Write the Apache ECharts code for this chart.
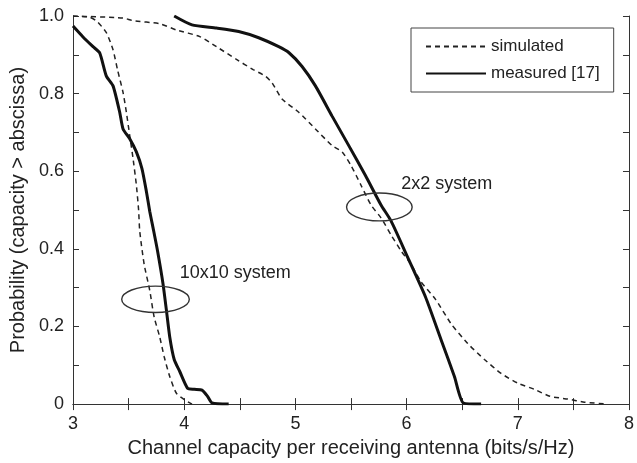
<!DOCTYPE html>
<html><head><meta charset="utf-8">
<script src="https://cdn.jsdelivr.net/npm/echarts@6/dist/echarts.min.js"></script>
<style>html,body{margin:0;padding:0;background:#fff}#c{width:637px;height:463px}</style>
</head><body><div id="c"></div>
<script>
// 10x10 system, simulated
const sim10X = [3.0, 3.15, 3.22, 3.30, 3.36, 3.40, 3.45, 3.48, 3.51, 3.54, 3.57, 3.59, 3.60, 3.64, 3.69, 3.73, 3.78, 3.82, 3.87, 3.93, 4.02, 4.07];
const sim10Y = [1.0, 0.997, 0.985, 0.957, 0.913, 0.862, 0.803, 0.752, 0.692, 0.633, 0.564, 0.50, 0.446, 0.36, 0.293, 0.224, 0.173, 0.122, 0.071, 0.028, 0.008, 0.0];
// 10x10 system, measured
const meas10X = [3.0, 3.09, 3.18, 3.24, 3.30, 3.36, 3.42, 3.45, 3.51, 3.57, 3.62, 3.66, 3.69, 3.72, 3.76, 3.81, 3.84, 3.87, 3.91, 3.96, 4.03, 4.09, 4.16, 4.21, 4.25, 4.40];
const meas10Y = [0.974, 0.946, 0.921, 0.905, 0.845, 0.82, 0.752, 0.709, 0.684, 0.65, 0.607, 0.548, 0.497, 0.454, 0.395, 0.309, 0.242, 0.173, 0.115, 0.084, 0.041, 0.038, 0.036, 0.02, 0.003, 0.0];
// 2x2 system, simulated
const sim2X = [3.0, 3.45, 3.54, 3.78, 3.93, 4.14, 4.29, 4.47, 4.62, 4.73, 4.79, 4.88, 5.03, 5.18, 5.33, 5.42, 5.50, 5.59, 5.68, 5.77, 5.86, 5.95, 6.04, 6.13, 6.26, 6.40, 6.55, 6.70, 6.85, 7.0, 7.15, 7.29, 7.45, 7.60, 7.80];
const sim2Y = [1.0, 0.995, 0.988, 0.98, 0.964, 0.947, 0.921, 0.888, 0.862, 0.845, 0.828, 0.786, 0.752, 0.709, 0.666, 0.65, 0.615, 0.564, 0.513, 0.48, 0.436, 0.395, 0.36, 0.315, 0.27, 0.207, 0.156, 0.115, 0.079, 0.054, 0.038, 0.02, 0.013, 0.005, 0.0];
// 2x2 system, measured
const meas2X = [3.91, 4.07, 4.29, 4.49, 4.67, 4.85, 4.94, 5.06, 5.18, 5.33, 5.48, 5.63, 5.77, 5.86, 6.01, 6.17, 6.31, 6.43, 6.51, 6.67];
const meas2Y = [1.0, 0.977, 0.969, 0.96, 0.944, 0.921, 0.906, 0.87, 0.82, 0.742, 0.666, 0.589, 0.513, 0.472, 0.378, 0.276, 0.166, 0.071, 0.003, 0.0];
// annotations: [centerX, centerY, radiusX, radiusY] in data units
const ellipses = [[5.755, 0.508, 0.295, 0.036], [3.742, 0.27, 0.304, 0.034]];
const annoLabels = ["2x2 system", "10x10 system"];
const annoLabelPos = [[5.952, 0.567], [3.96, 0.338]];
const xTicks = [3, 4, 5, 6, 7, 8];
const yTicks = [0, 0.2, 0.4, 0.6, 0.8, 1.0];

const pairs = (xs, ys) => xs.map((x, i) => [x, ys[i]]);
const FONT = '"Liberation Sans", Arial, sans-serif';
const chart = echarts.init(document.getElementById('c'), null, {renderer: 'canvas'});

function axisCommon(show) {
  return {
    axisLine: {show: true, lineStyle: {color: '#333', width: 1}},
    axisTick: {show: true, inside: true, length: 6, lineStyle: {color: '#333'}},
    splitLine: {show: false},
    axisLabel: {show: show}
  };
}
const dashStyle = {color: '#222', width: 1.5, type: [5, 4]};
const solidStyle = {color: '#111', width: 3};

chart.setOption({
  animation: false,
  textStyle: {fontFamily: FONT},
  grid: {left: 73, right: 5, top: 16, bottom: 55},
  xAxis: [
    Object.assign(axisCommon(true), {
      type: 'value', min: 3, max: 8, interval: 0.5, position: 'bottom',
      name: 'Channel capacity per receiving antenna (bits/s/Hz)', nameLocation: 'middle', nameGap: 29,
      nameTextStyle: {fontSize: 20, color: '#222', fontFamily: FONT},
      axisLabel: {show: true, fontSize: 18, color: '#222', margin: 11, fontFamily: FONT,
        formatter: v => xTicks.some(t => Math.abs(t - v) < 1e-6) ? String(Math.round(v)) : ''}
    }),
    Object.assign(axisCommon(false), {type: 'value', min: 3, max: 8, interval: 0.5, position: 'top'})
  ],
  yAxis: [
    Object.assign(axisCommon(true), {
      type: 'value', min: 0, max: 1, interval: 0.1, position: 'left',
      name: 'Probability (capacity > abscissa)', nameLocation: 'middle', nameGap: 41,
      nameTextStyle: {fontSize: 20, color: '#222', fontFamily: FONT},
      axisLabel: {show: true, fontSize: 18, color: '#222', margin: 9, fontFamily: FONT,
        formatter: v => { const t = yTicks.find(t => Math.abs(t - v) < 1e-6); return t === undefined ? '' : (t === 0 ? '0' : t.toFixed(1)); }}
    }),
    Object.assign(axisCommon(false), {type: 'value', min: 0, max: 1, interval: 0.1, position: 'right'})
  ],
  legend: {
    orient: 'vertical', left: 411, top: 28,
    backgroundColor: '#fff', borderColor: '#444', borderWidth: 1,
    padding: [10, 14, 10, 14], itemGap: 10, itemWidth: 60, itemHeight: 14,
    itemStyle: {opacity: 0, borderWidth: 0},
    textStyle: {fontSize: 17, color: '#222', fontFamily: FONT},
    data: ['simulated', 'measured [17]']
  },
  series: [
    {name: 'simulated', type: 'line', data: pairs(sim10X, sim10Y), symbol: 'none', smooth: 0.2, lineStyle: dashStyle, itemStyle: {color: '#222'}},
    {name: 'measured [17]', type: 'line', data: pairs(meas10X, meas10Y), symbol: 'none', smooth: 0.2, lineStyle: solidStyle, itemStyle: {color: '#111'}},
    {name: 'simulated', type: 'line', data: pairs(sim2X, sim2Y), symbol: 'none', smooth: 0.2, lineStyle: dashStyle, itemStyle: {color: '#222'}},
    {name: 'measured [17]', type: 'line', data: pairs(meas2X, meas2Y), symbol: 'none', smooth: 0.2, lineStyle: solidStyle, itemStyle: {color: '#111'}},
    {
      type: 'custom', name: 'anno', silent: true, z: 5,
      data: ellipses.map((e, i) => [e[0], e[1], e[2], e[3], annoLabelPos[i][0], annoLabelPos[i][1], i]),
      renderItem: (params, api) => {
        const c = api.coord([api.value(0), api.value(1)]);
        const s = api.size([api.value(2), api.value(3)]);
        const lp = api.coord([api.value(4), api.value(5)]);
        return {type: 'group', children: [
          {type: 'ellipse', shape: {cx: c[0], cy: c[1], rx: s[0], ry: s[1]}, style: {fill: 'none', stroke: '#333', lineWidth: 1.4}},
          {type: 'text', x: lp[0], y: lp[1], style: {text: annoLabels[api.value(6)], fill: '#222', font: '18px ' + FONT, textAlign: 'left', textVerticalAlign: 'middle'}}
        ]};
      }
    }
  ]
});
</script></body></html>
